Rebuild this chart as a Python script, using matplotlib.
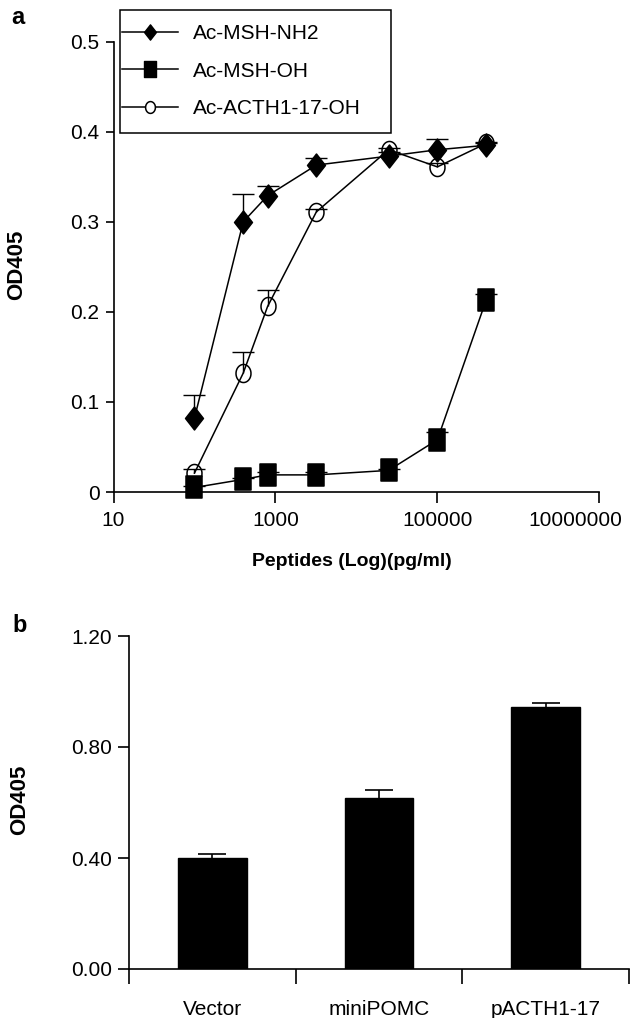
import matplotlib
matplotlib.use("Agg")
import matplotlib.pyplot as plt
from matplotlib.lines import Line2D
from matplotlib.patches import Rectangle
from matplotlib.path import Path
from matplotlib.transforms import ScaledTranslation
import numpy as np

plt.rcParams['font.family'] = ['Liberation Sans', 'DejaVu Sans']

# ---------------- data (panel a) ----------------
conc = [100, 400, 800, 3200, 25000, 100000, 400000]
msh_nh2 = [0.082, 0.300, 0.329, 0.363, 0.373, 0.380, 0.385]
msh_nh2_err = [0.026, 0.031, 0.011, 0.008, 0.004, 0.012, 0.002]
msh_oh = [0.005, 0.014, 0.019, 0.019, 0.024, 0.058, 0.213]
msh_oh_err = [0.002, 0.002, 0.003, 0.003, 0.002, 0.009, 0.007]
acth = [0.021, 0.132, 0.206, 0.311, 0.380, 0.361, 0.387]
acth_err = [0.005, 0.024, 0.018, 0.003, 0.002, 0.004, 0.002]
series_names = ['Ac-MSH-NH2', 'Ac-MSH-OH', 'Ac-ACTH1-17-OH']
xticks_a = [10, 1000, 100000, 10000000]
xticklabels_a = ['10', '1000', '100000', '10000000']
yticks_a = [0, 0.1, 0.2, 0.3, 0.4, 0.5]
yticklabels_a = ['0', '0.1', '0.2', '0.3', '0.4', '0.5']

# ---------------- data (panel b) ----------------
groups = ['Vector', 'miniPOMC', 'pACTH1-17']
od_b = [0.400, 0.615, 0.945]
od_b_err = [0.013, 0.030, 0.013]
yticks_b = [0.0, 0.4, 0.8, 1.2]

W, H = 639, 1018
fig = plt.figure(figsize=(W / 100, H / 100), dpi=100)

def fx(px):
    return px / W

def fy(py):
    return 1 - py / H

# custom (slightly tall) markers
diamond = Path([(0, -1), (0.78, 0), (0, 1), (-0.78, 0), (0, -1)],
               [Path.MOVETO, Path.LINETO, Path.LINETO, Path.LINETO, Path.CLOSEPOLY])
sq = Path([(-0.77, -1), (0.77, -1), (0.77, 1), (-0.77, 1), (-0.77, -1)],
          [Path.MOVETO, Path.LINETO, Path.LINETO, Path.LINETO, Path.CLOSEPOLY])
t = np.linspace(0, 2 * np.pi, 60)
ell = Path(np.column_stack([0.83 * np.cos(t), np.sin(t)]))

LW = 1.1
TICKFS = 15

# ---------------- panel a ----------------
axa = fig.add_axes([fx(113.5), fy(492), fx(599.3) - fx(113.5), fy(41.7) - fy(492)])
axa.set_xscale('log')
axa.set_xlim(10, 1e7)
axa.set_ylim(0, 0.5)

styles = [
    (msh_nh2, msh_nh2_err, diamond, 16.5, 'black'),
    (msh_oh, msh_oh_err, sq, 15.8, 'black'),
    (acth, acth_err, ell, 13.0, 'none'),
]
for vals, errs, mk, ms, fc in styles:
    v = np.array(vals)
    e = np.array(errs)
    axa.vlines(conc, v, v + e, colors='black', linewidth=1.0, zorder=2)
    axa.plot(conc, v + e, linestyle='none', marker='_', markersize=15.8,
             markeredgewidth=1.0, color='black', zorder=2)
    axa.plot(conc, v, color='black', linewidth=LW, marker=mk, markersize=ms,
             markerfacecolor=fc, markeredgecolor='black', markeredgewidth=1.1,
             zorder=3, clip_on=False)

axa.set_xticks(xticks_a)
axa.set_xticklabels(xticklabels_a)
axa.xaxis.set_minor_locator(matplotlib.ticker.NullLocator())
axa.set_yticks(yticks_a)
axa.set_yticklabels(yticklabels_a)
for s in ['top', 'right']:
    axa.spines[s].set_visible(False)
for s in ['left', 'bottom']:
    axa.spines[s].set_linewidth(1.2)
axa.tick_params(axis='x', direction='out', length=8, width=1.2, labelsize=TICKFS, pad=6)
axa.tick_params(axis='y', direction='out', length=6, width=1.2, labelsize=TICKFS, pad=4)
# keep the last x label inside the chart area (as the original does)
last_lbl = axa.get_xticklabels()[-1]
last_lbl.set_transform(last_lbl.get_transform() +
                       ScaledTranslation(-24 / 100, 0, fig.dpi_scale_trans))

# legend
handles = [
    Line2D([], [], color='black', linewidth=LW, marker=diamond, markersize=11,
           markerfacecolor='black', markeredgecolor='black'),
    Line2D([], [], color='black', linewidth=LW, marker=sq, markersize=11,
           markerfacecolor='black', markeredgecolor='black'),
    Line2D([], [], color='black', linewidth=LW, marker=ell, markersize=8.5,
           markerfacecolor='white', markeredgecolor='black', markeredgewidth=1.1),
]
leg = axa.legend(handles, series_names, loc='upper left',
                 bbox_to_anchor=(fx(122), fy(24)), bbox_transform=fig.transFigure,
                 frameon=False, fontsize=15, handlelength=2.7, handletextpad=0.72,
                 labelspacing=0.9, borderpad=0, borderaxespad=0)
fig.patches.append(Rectangle((fx(120), fy(133)), fx(391) - fx(120), fy(10) - fy(133),
                             transform=fig.transFigure, fill=False,
                             edgecolor='black', linewidth=1.1))

fig.text(fx(352), fy(562), 'Peptides (Log)(pg/ml)', ha='center', va='center',
         fontsize=14, fontweight='bold')
fig.text(fx(17), fy(265), 'OD405', ha='center', va='center', rotation=90,
         fontsize=16, fontweight='bold')
fig.text(fx(18), fy(18), 'a', ha='center', va='center', fontsize=17, fontweight='bold')

# ---------------- panel b ----------------
axb = fig.add_axes([fx(129), fy(969), fx(629) - fx(129), fy(636) - fy(969)])
xpos = np.arange(len(groups))
axb.bar(xpos, od_b, width=0.41, color='black', edgecolor='black', zorder=2)
ob = np.array(od_b)
eb = np.array(od_b_err)
axb.vlines(xpos, ob, ob + eb, colors='black', linewidth=1.2, zorder=1)
axb.plot(xpos, ob + eb, linestyle='none', marker='_', markersize=19.5,
         markeredgewidth=1.2, color='black', zorder=1)
axb.set_xlim(-0.5, len(groups) - 0.5)
axb.set_ylim(0, 1.2)
axb.set_yticks(yticks_b)
axb.set_yticklabels(['%.2f' % v for v in yticks_b])
axb.set_xticks(np.arange(len(groups) + 1) - 0.5)
axb.set_xticklabels([])
axb.set_xticks(xpos, minor=True)
axb.set_xticklabels(groups, minor=True)
axb.tick_params(axis='x', which='major', direction='out', length=11, width=1.2)
axb.tick_params(axis='x', which='minor', length=0, labelsize=TICKFS, pad=22)
axb.tick_params(axis='y', direction='out', length=8, width=1.2, labelsize=TICKFS, pad=4)
for s in ['top', 'right']:
    axb.spines[s].set_visible(False)
for s in ['left', 'bottom']:
    axb.spines[s].set_linewidth(1.2)

fig.text(fx(20), fy(800), 'OD405', ha='center', va='center', rotation=90,
         fontsize=16, fontweight='bold')
fig.text(fx(20), fy(626), 'b', ha='center', va='center', fontsize=17, fontweight='bold')

fig.savefig('out.png', dpi=100)
